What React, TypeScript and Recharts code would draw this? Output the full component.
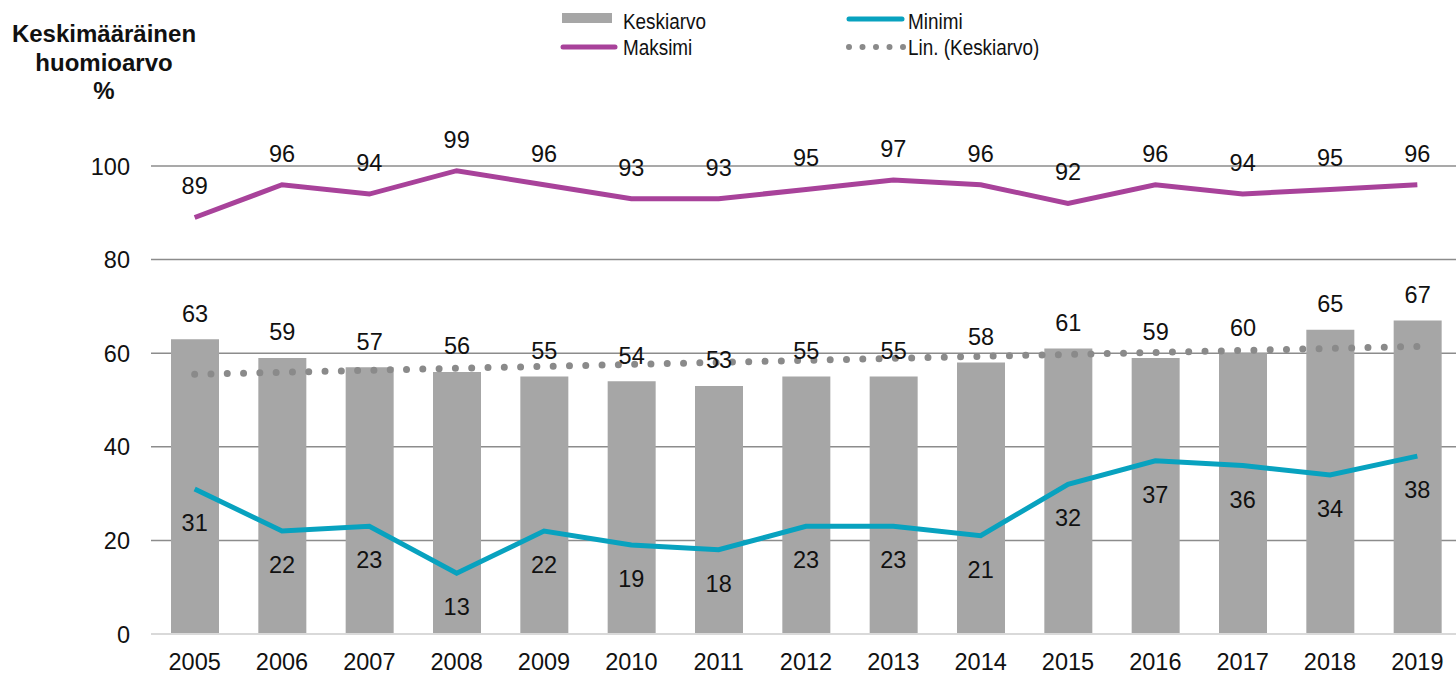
import React from "react";
import {
  ComposedChart,
  Bar,
  Line,
  XAxis,
  YAxis,
  CartesianGrid,
  LabelList,
} from "recharts";

// Data
const years = ["2005", "2006", "2007", "2008", "2009", "2010", "2011", "2012", "2013", "2014", "2015", "2016", "2017", "2018", "2019"];
const keskiarvo = [63, 59, 57, 56, 55, 54, 53, 55, 55, 58, 61, 59, 60, 65, 67];
const maksimi = [89, 96, 94, 99, 96, 93, 93, 95, 97, 96, 92, 96, 94, 95, 96];
const minimi = [31, 22, 23, 13, 22, 19, 18, 23, 23, 21, 32, 37, 36, 34, 38];
const yTicks = [0, 20, 40, 60, 80, 100];

// linear trend of the averages (least squares, like Excel's "Lin.")
const n = keskiarvo.length;
const meanX = (n - 1) / 2;
const meanY = keskiarvo.reduce((a, b) => a + b, 0) / n;
let sxy = 0;
let sxx = 0;
keskiarvo.forEach((v, i) => {
  sxy += (i - meanX) * (v - meanY);
  sxx += (i - meanX) * (i - meanX);
});
const slope = sxy / sxx;
const intercept = meanY - slope * meanX;

const data = years.map((year, i) => ({
  year,
  avg: keskiarvo[i],
  max: maksimi[i],
  min: minimi[i],
  trend: intercept + slope * i,
}));

const FONT = "'Liberation Sans', Arial, sans-serif";
const NUM_SIZE = 23.5;
const GRAY_BAR = "#a6a6a6";
const PURPLE = "#a8429a";
const TEAL = "#08a2bf";
const DOT_GRAY = "#8a8a8a";

const valueText = (x: number, y: number, value: any) => (
  <text x={x} y={y} textAnchor="middle" fontSize={NUM_SIZE} fontFamily={FONT} fill="#111">
    {value}
  </text>
);

// legend text is a bit condensed in the original
const LegendLabel = ({ x, y, label }: { x: number; y: number; label: string }) => (
  <g transform={`translate(${x},${y}) scale(0.86,1)`}>
    <text x={0} y={0} fontSize={22} fontFamily={FONT} fill="#111">
      {label}
    </text>
  </g>
);

// legend drawn by hand, Excel style: two rows, two columns
function LegendBox() {
  return (
    <svg width={1456} height={70} style={{ position: "absolute", left: 0, top: 0 }}>
      <rect x={562} y={13} width={50} height={10} fill={GRAY_BAR} />
      <LegendLabel x={623} y={29} label="Keskiarvo" />
      <line x1={849} y1={19} x2={902} y2={19} stroke={TEAL} strokeWidth={5} strokeLinecap="round" />
      <LegendLabel x={908} y={29} label="Minimi" />
      <line x1={563} y1={47} x2={615} y2={47} stroke={PURPLE} strokeWidth={5} strokeLinecap="round" />
      <LegendLabel x={623} y={55} label="Maksimi" />
      <line x1={849} y1={47} x2={904} y2={47} stroke={DOT_GRAY} strokeWidth={6} strokeLinecap="round" strokeDasharray="0 13.5" />
      <LegendLabel x={908} y={55} label="Lin. (Keskiarvo)" />
    </svg>
  );
}

export default function App() {
  return (
    <div
      style={{
        position: "absolute",
        left: 0,
        top: 0,
        width: 1456,
        height: 675,
        overflow: "hidden",
        background: "#fff",
        fontFamily: FONT,
      }}
    >
      <ComposedChart
        width={1461}
        height={675}
        data={data}
        margin={{ top: 166, right: 0, bottom: 0, left: 0 }}
      >
        <CartesianGrid vertical={false} stroke="#8c8c8c" strokeWidth={1.5} horizontalValues={[20, 40, 60, 80, 100]} />
        <XAxis
          dataKey="year"
          height={41}
          tickSize={0}
          tickMargin={0}
          tickLine={false}
          axisLine={{ stroke: "#d9d9d9", strokeWidth: 2 }}
          interval={0}
          tick={(p: any) => (
            <text x={p.x} y={p.y + 36} textAnchor="middle" fontSize={NUM_SIZE} fontFamily={FONT} fill="#111">
              {p.payload.value}
            </text>
          )}
        />
        <YAxis
          width={151}
          domain={[0, 100]}
          ticks={yTicks}
          tickSize={0}
          tickMargin={0}
          tickLine={false}
          axisLine={false}
          tick={(p: any) => (
            <text x={p.x - 21} y={p.y + 8.5} textAnchor="end" fontSize={NUM_SIZE} fontFamily={FONT} fill="#111">
              {p.payload.value}
            </text>
          )}
        />
        <Bar dataKey="avg" name="Keskiarvo" fill={GRAY_BAR} barSize={48} isAnimationActive={false}>
          <LabelList
            dataKey="avg"
            content={(p: any) => valueText(p.x + p.width / 2, p.y - 17.5, p.value)}
          />
        </Bar>
        <Line
          dataKey="trend"
          name="Lin. (Keskiarvo)"
          stroke={DOT_GRAY}
          strokeWidth={7}
          strokeLinecap="round"
          strokeDasharray="0 16.3"
          dot={false}
          activeDot={false}
          isAnimationActive={false}
        />
        <Line
          dataKey="max"
          name="Maksimi"
          stroke={PURPLE}
          strokeWidth={5}
          dot={false}
          activeDot={false}
          isAnimationActive={false}
        >
          <LabelList dataKey="max" content={(p: any) => valueText(p.x, p.y - 23, p.value)} />
        </Line>
        <Line
          dataKey="min"
          name="Minimi"
          stroke={TEAL}
          strokeWidth={5}
          dot={false}
          activeDot={false}
          isAnimationActive={false}
        >
          <LabelList dataKey="min" content={(p: any) => valueText(p.x, p.y + 42, p.value)} />
        </Line>
      </ComposedChart>

      <LegendBox />

      {/* Y axis title */}
      <div
        style={{
          position: "absolute",
          left: 0,
          top: 20,
          width: 208,
          textAlign: "center",
          fontWeight: "bold",
          fontSize: 24,
          lineHeight: "28.5px",
          color: "#111",
        }}
      >
        Keskimääräinen
        <br />
        huomioarvo
        <br />%
      </div>
    </div>
  );
}
